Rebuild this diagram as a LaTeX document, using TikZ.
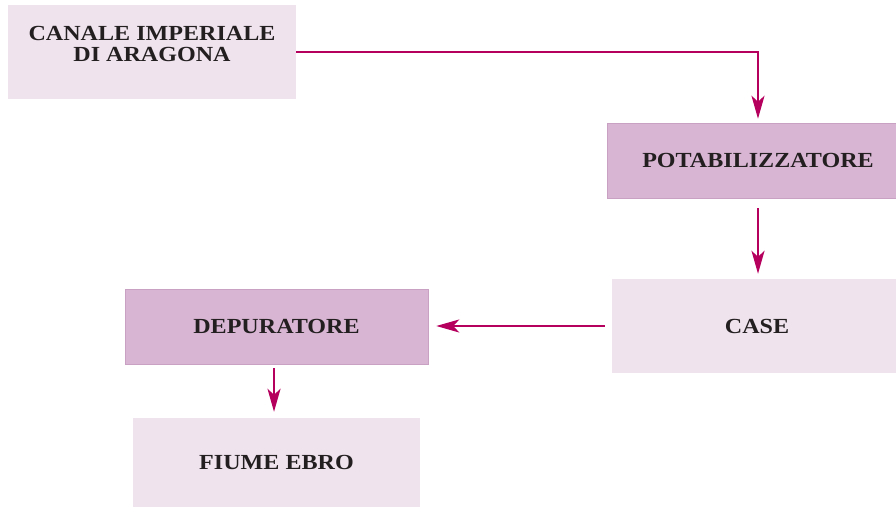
\documentclass[tikz,border=0pt]{standalone}
\usepackage{fontspec}
\setmainfont[FakeStretch=1.12]{Liberation Serif}
\usetikzlibrary{arrows.meta}
\definecolor{lightbox}{HTML}{EFE3EE}
\definecolor{darkbox}{HTML}{D8B5D3}
\definecolor{darkedge}{HTML}{C9A2C3}
\definecolor{arrowcol}{HTML}{B5005E}
\definecolor{txt}{HTML}{231F20}
\tikzset{
  boxbase/.style={rectangle, inner sep=0pt, align=center, text=txt,
    font=\fontsize{21.5}{20.5}\selectfont\bfseries},
  lightnode/.style={boxbase, fill=lightbox},
  darknode/.style={boxbase, fill=darkbox, draw=darkedge, line width=0.5pt},
  arr/.style={draw=arrowcol, line width=2.4pt,
    -{Stealth[length=23pt,width=13pt,inset=6pt]}}
}
\begin{document}
\begin{tikzpicture}[x=1pt,y=-1pt]
\useasboundingbox (0,0) rectangle (896,508);
\node[lightnode, minimum width=288pt, minimum height=94pt] (c1) at (152,52) {};
\node[boxbase] (c1t) at (152,44) {CANALE IMPERIALE\\DI ARAGONA};
\node[darknode, minimum width=302pt, minimum height=75pt] (pot) at (758,160.5) {POTABILIZZATORE};
\node[lightnode, minimum width=290pt, minimum height=94pt] (case) at (757,326) {CASE};
\node[darknode, minimum width=303pt, minimum height=75pt] (dep) at (276.5,326.5) {DEPURATORE};
\node[lightnode, minimum width=287pt, minimum height=89pt] (fiume) at (276.5,462.5) {FIUME EBRO};
\draw[arr] (c1.east) -| ([yshift=4pt]pot.north);
\draw[arr] ([yshift=-10pt]pot.south) -- ([yshift=5pt]pot.south |- case.north);
\draw[arr] ([xshift=-7pt]case.west) -- ([xshift=8pt]case.west -| dep.east);
\draw[arr] ([xshift=-2.5pt,yshift=-4pt]dep.south) -- ([xshift=-2.5pt,yshift=6pt]fiume.north);
\end{tikzpicture}
\end{document}
